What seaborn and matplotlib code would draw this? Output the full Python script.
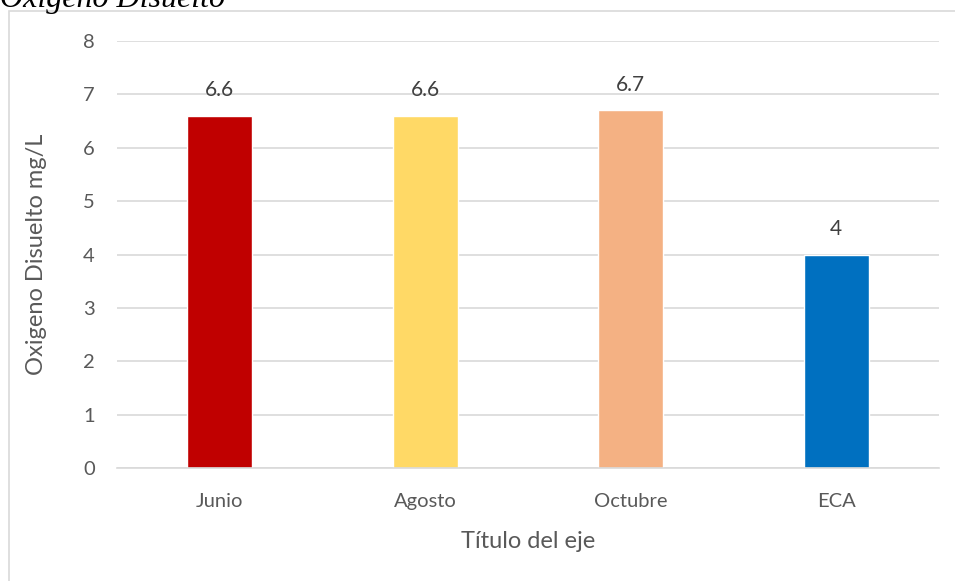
import matplotlib
matplotlib.use("Agg")
import matplotlib.pyplot as plt
import seaborn as sns
import pandas as pd
from matplotlib.patches import Rectangle

categories = ["Junio", "Agosto", "Octubre", "ECA"]
values = [6.6, 6.6, 6.7, 4]
labels = ["6.6", "6.6", "6.7", "4"]
colors = ["#C00000", "#FFD966", "#F4B183", "#0070C0"]
yticks = [0, 1, 2, 3, 4, 5, 6, 7, 8]

sns.set_style("white")
plt.rcParams["font.family"] = ["Lato", "DejaVu Sans"]

df = pd.DataFrame({"cat": categories, "val": values})

fig = plt.figure(figsize=(9.55, 5.81), dpi=100)
W, H = 955, 581
ax = fig.add_axes([117 / W, 113 / H, (939 - 117) / W, (468 - 41) / H])

sns.barplot(data=df, x="cat", y="val", hue="cat", palette=colors,
            width=0.316, legend=False, ax=ax, saturation=1)

ax.set_ylim(0, 8)
ax.set_xlim(-0.5, 3.5)
ax.set_yticks(yticks)
ax.yaxis.grid(True, color="#d9d9d9", linewidth=1.2)
ax.set_axisbelow(True)
for s in ["top", "right", "left"]:
    ax.spines[s].set_visible(False)
ax.spines["bottom"].set_color("#d9d9d9")
ax.spines["bottom"].set_linewidth(1.2)
ax.tick_params(axis="both", length=0, labelsize=14.5, colors="#595959")
ax.tick_params(axis="y", pad=16)
ax.tick_params(axis="x", pad=18)

for i, (v, t) in enumerate(zip(values, labels)):
    ax.annotate(t, (i, v), xytext=(0, 11), textcoords="offset points",
                ha="center", va="bottom", fontsize=15, color="#404040")

ax.set_xlabel("Título del eje", fontsize=17, color="#595959", labelpad=15)
ax.set_ylabel("Oxigeno Disuelto mg/L", fontsize=17, color="#595959", labelpad=26)

fig.patches.append(Rectangle((9 / W, -0.1), 1.2, (H - 11) / H + 0.1,
                             transform=fig.transFigure, fill=False,
                             edgecolor="#d9d9d9", linewidth=1.2))

fig.text(0, 1 - 7 / H, "Oxigeno Disuelto", fontsize=23, style="italic",
         family=["Liberation Serif", "DejaVu Serif"], ha="left",
         va="baseline", color="black")

fig.savefig("out.png", dpi=100)
